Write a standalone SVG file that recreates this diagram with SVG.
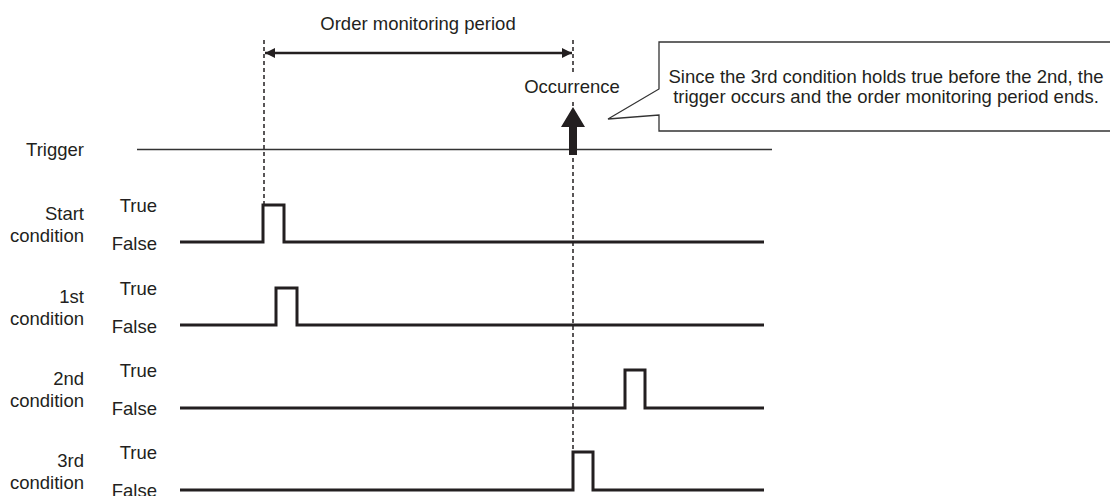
<svg xmlns="http://www.w3.org/2000/svg" width="1110" height="496" viewBox="0 0 1110 496">
<style>
text{font-family:"Liberation Sans",Arial,sans-serif;font-size:18.5px;fill:#231f20}
.r{text-anchor:end}
.m{text-anchor:middle}
.sig{fill:none;stroke:#231f20;stroke-width:3}
.dash{fill:none;stroke:#231f20;stroke-width:1.5;stroke-dasharray:4 3}
</style>
<defs>
<marker id="ah" viewBox="0 0 10 10" refX="10" refY="5" markerWidth="10" markerHeight="10" markerUnits="userSpaceOnUse" orient="auto-start-reverse">
<path d="M0,0 L10,5 L0,10 z" fill="#231f20"/>
</marker>
</defs>
<rect width="1110" height="496" fill="#fff"/>
<g id="connectors">
<line class="dash" x1="264" y1="40" x2="264" y2="205"/>
<line class="dash" x1="573" y1="40" x2="573" y2="72"/>
<line class="dash" x1="573" y1="102" x2="573" y2="452"/>
<line x1="265" y1="53" x2="572" y2="53" stroke="#231f20" stroke-width="2.5" marker-start="url(#ah)" marker-end="url(#ah)"/>
</g>
<g id="period-label"><text class="m" x="418" y="30">Order monitoring period</text></g>
<g id="trigger">
<text class="r" x="84" y="156">Trigger</text>
<line x1="137" y1="149.5" x2="772" y2="149.5" stroke="#333" stroke-width="1.5"/>
<path d="M573,107 L585,127 L577,127 L577,155 L569,155 L569,127 L561,127 z" fill="#231f20"/>
<text class="m" x="572" y="93">Occurrence</text>
</g>
<g id="callout">
<path d="M659,42 L1113,42 L1113,131 L659,131 L659,115 L608,119 L659,89 z" fill="#fff" stroke="#333" stroke-width="1.3"/>
<text class="m" x="886" y="83">Since the 3rd condition holds true before the 2nd, the</text>
<text class="m" x="886" y="103">trigger occurs and the order monitoring period ends.</text>
</g>
<g id="start-condition">
<text class="r" x="84" y="220">Start</text>
<text class="r" x="84" y="242">condition</text>
<text class="r" x="157" y="212">True</text>
<text class="r" x="157" y="250">False</text>
<path class="sig" d="M180,242 H263 V205 H284 V242 H764"/>
</g>
<g id="first-condition">
<text class="r" x="84" y="303">1st</text>
<text class="r" x="84" y="325">condition</text>
<text class="r" x="157" y="295">True</text>
<text class="r" x="157" y="333">False</text>
<path class="sig" d="M180,325 H276 V288 H297 V325 H764"/>
</g>
<g id="second-condition">
<text class="r" x="84" y="385">2nd</text>
<text class="r" x="84" y="407">condition</text>
<text class="r" x="157" y="377">True</text>
<text class="r" x="157" y="415">False</text>
<path class="sig" d="M180,408 H625 V370 H645 V408 H764"/>
</g>
<g id="third-condition">
<text class="r" x="84" y="467">3rd</text>
<text class="r" x="84" y="489">condition</text>
<text class="r" x="157" y="459">True</text>
<text class="r" x="157" y="497">False</text>
<path class="sig" d="M180,490 H573 V452 H593 V490 H764"/>
</g>
</svg>
